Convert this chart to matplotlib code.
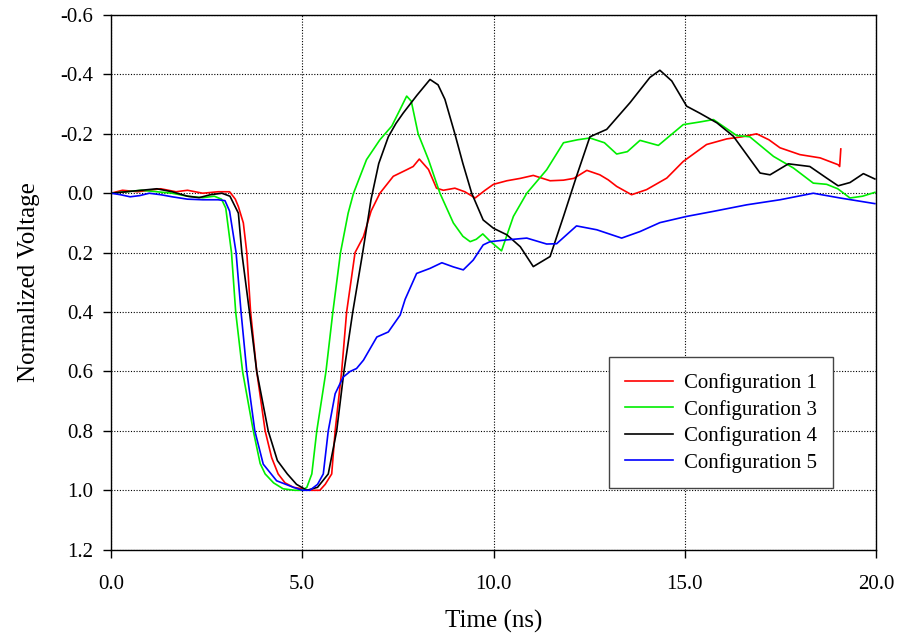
import numpy as np
import matplotlib
matplotlib.use("Agg")
import matplotlib.pyplot as plt

plt.rcParams['font.family'] = ['Liberation Serif', 'DejaVu Serif']

# Configuration 1 (red)
t_cfg1 = [0, 0.3, 0.7, 1.0, 1.3, 1.7, 2.0, 2.4, 2.8, 3.1, 3.25, 3.33, 3.46, 3.55, 3.65, 3.81,
          4.03, 4.2, 4.37, 4.55, 4.77, 5.0, 5.2, 5.46, 5.6, 5.77, 5.86, 6.03, 6.16, 6.38, 6.6,
          6.8, 7.03, 7.38, 7.73, 7.9, 8.06, 8.3, 8.51, 8.69, 8.99, 9.25, 9.52, 9.78, 10.0,
          10.35, 10.7, 11.04, 11.48, 11.83, 12.1, 12.44, 12.78, 13.0, 13.22, 13.61, 14.0,
          14.53, 14.96, 15.57, 16.1, 16.5, 16.88, 17.2, 17.49, 18.01, 18.54, 19.01, 19.05, 19.08]
v_cfg1 = [0, -0.01, -0.005, -0.01, -0.015, -0.005, -0.01, 0.0, -0.005, -0.005, 0.02, 0.045,
          0.1, 0.2, 0.4, 0.6, 0.8, 0.89, 0.945, 0.975, 0.99, 0.995, 1.0, 1.0, 0.98, 0.945,
          0.8, 0.6, 0.4, 0.2, 0.146, 0.06, 0.0, -0.057, -0.079, -0.09, -0.115, -0.08, -0.017,
          -0.01, -0.017, -0.005, 0.016, -0.01, -0.03, -0.042, -0.05, -0.06, -0.042, -0.044,
          -0.05, -0.077, -0.062, -0.045, -0.023, 0.005, -0.012, -0.051, -0.107, -0.164,
          -0.183, -0.19, -0.2, -0.18, -0.153, -0.13, -0.119, -0.096, -0.09, -0.149]

# Configuration 3 (green)
t_cfg3 = [0, 0.4, 0.8, 1.2, 1.6, 2.0, 2.4, 2.7, 2.89, 3.0, 3.15, 3.26, 3.44, 3.72, 3.9, 4.03,
          4.25, 4.5, 4.8, 5.0, 5.12, 5.25, 5.38, 5.62, 5.8, 6.0, 6.2, 6.34, 6.68, 7.03, 7.34,
          7.55, 7.73, 7.85, 8.03, 8.3, 8.6, 8.95, 9.2, 9.39, 9.55, 9.72, 9.9, 10.21, 10.52,
          10.87, 11.39, 11.83, 12.2, 12.52, 12.9, 13.22, 13.5, 13.83, 14.31, 14.96, 15.4,
          15.75, 16.36, 16.7, 17.32, 17.84, 18.36, 18.71, 19.0, 19.32, 19.65, 19.97]
v_cfg3 = [0, -0.005, -0.01, -0.005, 0.0, 0.01, 0.015, 0.01, 0.02, 0.05, 0.2, 0.4, 0.6, 0.8,
          0.91, 0.945, 0.975, 0.995, 1.0, 1.0, 0.99, 0.945, 0.8, 0.6, 0.4, 0.2, 0.067, 0.0,
          -0.113, -0.18, -0.226, -0.28, -0.327, -0.31, -0.2, -0.113, 0.0, 0.1, 0.145, 0.163,
          0.155, 0.137, 0.16, 0.194, 0.078, 0.0, -0.079, -0.17, -0.18, -0.186, -0.17, -0.132,
          -0.14, -0.178, -0.161, -0.231, -0.24, -0.248, -0.194, -0.19, -0.124, -0.085,
          -0.034, -0.03, -0.015, 0.016, 0.01, -0.003]

# Configuration 4 (black)
t_cfg4 = [0, 0.4, 0.8, 1.2, 1.6, 2.0, 2.3, 2.6, 2.9, 3.11, 3.33, 3.42, 3.62, 3.81, 4.11, 4.35,
          4.61, 4.85, 5.12, 5.4, 5.68, 5.9, 6.09, 6.32, 6.58, 6.8, 7.0, 7.25, 7.45, 7.64,
          8.0, 8.34, 8.55, 8.73, 8.99, 9.2, 9.43, 9.73, 10.0, 10.35, 10.7, 11.04, 11.48,
          11.83, 12.17, 12.52, 12.96, 13.57, 14.09, 14.35, 14.66, 15.05, 15.4, 15.84, 16.27,
          16.62, 16.97, 17.23, 17.71, 18.27, 18.71, 19.01, 19.32, 19.67, 19.97]
v_cfg4 = [0, -0.005, -0.01, -0.015, -0.005, 0.01, 0.015, 0.005, 0.0, 0.01, 0.067, 0.2, 0.4,
          0.6, 0.8, 0.9, 0.945, 0.98, 1.0, 0.99, 0.945, 0.8, 0.6, 0.4, 0.2, 0.02, -0.1, -0.19,
          -0.235, -0.27, -0.33, -0.383, -0.365, -0.316, -0.2, -0.1, 0.0, 0.09, 0.118, 0.14,
          0.18, 0.247, 0.213, 0.078, -0.057, -0.19, -0.215, -0.305, -0.39, -0.414, -0.378,
          -0.293, -0.269, -0.237, -0.192, -0.13, -0.068, -0.062, -0.099, -0.09, -0.051,
          -0.025, -0.036, -0.066, -0.048]

# Configuration 5 (blue)
t_cfg5 = [0, 0.25, 0.5, 0.75, 1.0, 1.3, 1.6, 2.0, 2.4, 2.8, 2.98, 3.1, 3.27, 3.4, 3.55, 3.76,
          3.98, 4.33, 4.77, 5.0, 5.2, 5.4, 5.55, 5.68, 5.86, 6.07, 6.25, 6.42, 6.6, 6.95,
          7.25, 7.56, 7.69, 7.99, 8.34, 8.65, 8.95, 9.21, 9.47, 9.73, 9.91, 10.35, 10.87,
          11.39, 11.65, 12.17, 12.7, 13.35, 13.83, 14.35, 15.05, 15.75, 16.62, 17.49, 18.36,
          19.06, 19.97]
v_cfg5 = [0, 0.005, 0.012, 0.008, 0.0, 0.005, 0.012, 0.02, 0.022, 0.022, 0.025, 0.06, 0.2,
          0.4, 0.6, 0.8, 0.912, 0.968, 0.99, 1.0, 1.0, 0.98, 0.945, 0.8, 0.675, 0.619, 0.6,
          0.59, 0.562, 0.484, 0.467, 0.41, 0.357, 0.27, 0.253, 0.234, 0.248, 0.258, 0.225,
          0.174, 0.163, 0.157, 0.151, 0.171, 0.17, 0.11, 0.123, 0.151, 0.129, 0.099, 0.078,
          0.061, 0.039, 0.022, 0.0, 0.016, 0.035]

labels = ["Configuration 1", "Configuration 3", "Configuration 4", "Configuration 5"]
colors = ["#ff0000", "#00ee00", "#000000", "#0000ff"]
x_ticks = [0, 5, 10, 15, 20]
y_ticks = [-0.6, -0.4, -0.2, 0.0, 0.2, 0.4, 0.6, 0.8, 1.0, 1.2]

fig = plt.figure(figsize=(9.09, 6.39), dpi=100)
ax = fig.add_axes([111 / 909, 1 - 549.7 / 639, 765 / 909, 534.7 / 639])

series = [(t_cfg1, v_cfg1), (t_cfg3, v_cfg3), (t_cfg4, v_cfg4), (t_cfg5, v_cfg5)]
for (t, v), lab, c in zip(series, labels, colors):
    ax.plot(t, v, color=c, lw=1.2, label=lab)

ax.set_xlim(0, 20)
ax.set_ylim(1.2, -0.6)
ax.set_xticks(x_ticks)
ax.set_xticklabels([f"{x:.1f}" for x in x_ticks])
ax.set_yticks(y_ticks)
ax.set_yticklabels([f"{y:.1f}" for y in y_ticks])
ax.grid(True, color="black", linestyle=(0, (1, 1.5)), lw=0.8)
ax.tick_params(direction="out", length=6, width=1, labelsize=15, pad=7)
ax.tick_params(axis="x", pad=12)
for s in ax.spines.values():
    s.set_linewidth(1.0)

ax.set_xlabel("Time (ns)", fontsize=18, labelpad=12)
ax.set_ylabel("Normalized Voltage", fontsize=18, labelpad=14)

leg = ax.legend(loc="lower left", bbox_to_anchor=(0.651, 0.1148), borderaxespad=0,
                fontsize=15, fancybox=False, edgecolor="#444444", framealpha=1,
                handlelength=2.3, handletextpad=0.55, labelspacing=0.32, borderpad=0.75)
leg.get_frame().set_linewidth(1.0)

fig.savefig("out.png", dpi=100)
